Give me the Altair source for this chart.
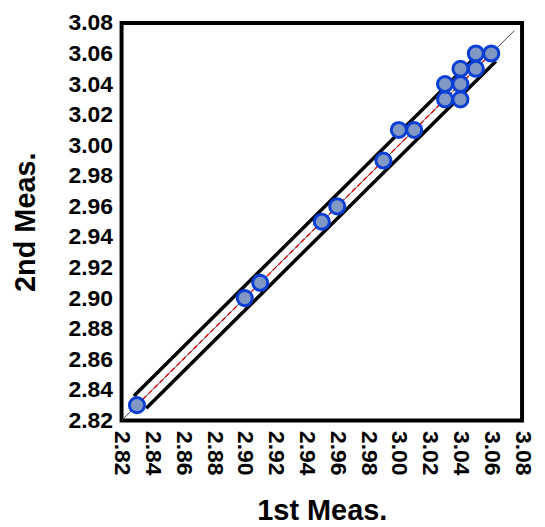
import altair as alt
import pandas as pd

first_meas = [2.83, 2.90, 2.91, 2.95, 2.96, 2.99, 3.00, 3.01, 3.03, 3.04, 3.03, 3.04, 3.04, 3.05, 3.05, 3.06]
second_meas = [2.83, 2.90, 2.91, 2.95, 2.96, 2.99, 3.01, 3.01, 3.03, 3.03, 3.04, 3.04, 3.05, 3.05, 3.06, 3.06]

# Reference lines
identity_x = [2.82, 3.075]
identity_y = [2.82, 3.075]
fit_x = [2.83, 3.06]
fit_y = [2.83, 3.06]
upper_x = [2.828, 3.054]
upper_y = [2.836, 3.062]
lower_x = [2.836, 3.063]
lower_y = [2.828, 3.055]

tick_values = [2.82, 2.84, 2.86, 2.88, 2.90, 2.92, 2.94, 2.96, 2.98, 3.00, 3.02, 3.04, 3.06, 3.08]

FONT = "Liberation Sans"
domain = [2.82, 3.08]

xscale = alt.Scale(domain=domain, nice=False, zero=False)
yscale = alt.Scale(domain=domain, nice=False, zero=False)

xaxis = alt.Axis(values=tick_values, format=".2f", labelAngle=90, labelFont=FONT,
                 labelFontSize=23, labelFontWeight="bold", labelColor="black",
                 labelPadding=10, ticks=False, domain=False, grid=False,
                 title="1st Meas.", titleFont=FONT, titleFontSize=29, titleFontWeight="bold",
                 titleColor="black", titleY=90, titleBaseline="middle", labelFlush=False,
                 labelOverlap=False)
yaxis = alt.Axis(values=tick_values, format=".2f", labelFont=FONT,
                 labelFontSize=23, labelFontWeight="bold", labelColor="black",
                 labelPadding=9, ticks=False, domain=False, grid=False,
                 title="2nd Meas.", titleFont=FONT, titleFontSize=29, titleFontWeight="bold",
                 titleColor="black", titleX=-96, titleBaseline="middle", labelFlush=False,
                 labelOverlap=False)

pts = pd.DataFrame({"x": first_meas, "y": second_meas})
ident = pd.DataFrame({"x": identity_x, "y": identity_y})
fit = pd.DataFrame({"x": fit_x, "y": fit_y})
upper = pd.DataFrame({"x": upper_x, "y": upper_y})
lower = pd.DataFrame({"x": lower_x, "y": lower_y})

def line(df, **kw):
    return alt.Chart(df).mark_line(**kw).encode(
        x=alt.X("x:Q", scale=xscale, axis=xaxis),
        y=alt.Y("y:Q", scale=yscale, axis=yaxis),
    )

l_ident = line(ident, color="#444444", strokeWidth=1)
l_upper = line(upper, color="black", strokeWidth=3.5)
l_lower = line(lower, color="black", strokeWidth=3.5)
l_fit = line(fit, color="#e00000", strokeWidth=1.3, strokeDash=[5, 3])

points = alt.Chart(pts).mark_point(filled=True, shape="circle", size=230,
                                    fill="#7f98c4", stroke="#0a3fd6", strokeWidth=3,
                                    opacity=1).encode(
    x=alt.X("x:Q", scale=xscale, axis=xaxis),
    y=alt.Y("y:Q", scale=yscale, axis=yaxis),
)

chart = alt.layer(l_ident, l_upper, l_lower, l_fit, points).properties(
    width=402, height=399,
    background="white",
    autosize=alt.AutoSizeParams(type="none"),
    padding={"left": 114, "top": 14, "right": 15, "bottom": 110},
).configure_view(stroke="black", strokeWidth=4)

chart.save("out.html", embed_options={"renderer": "svg", "actions": False})
